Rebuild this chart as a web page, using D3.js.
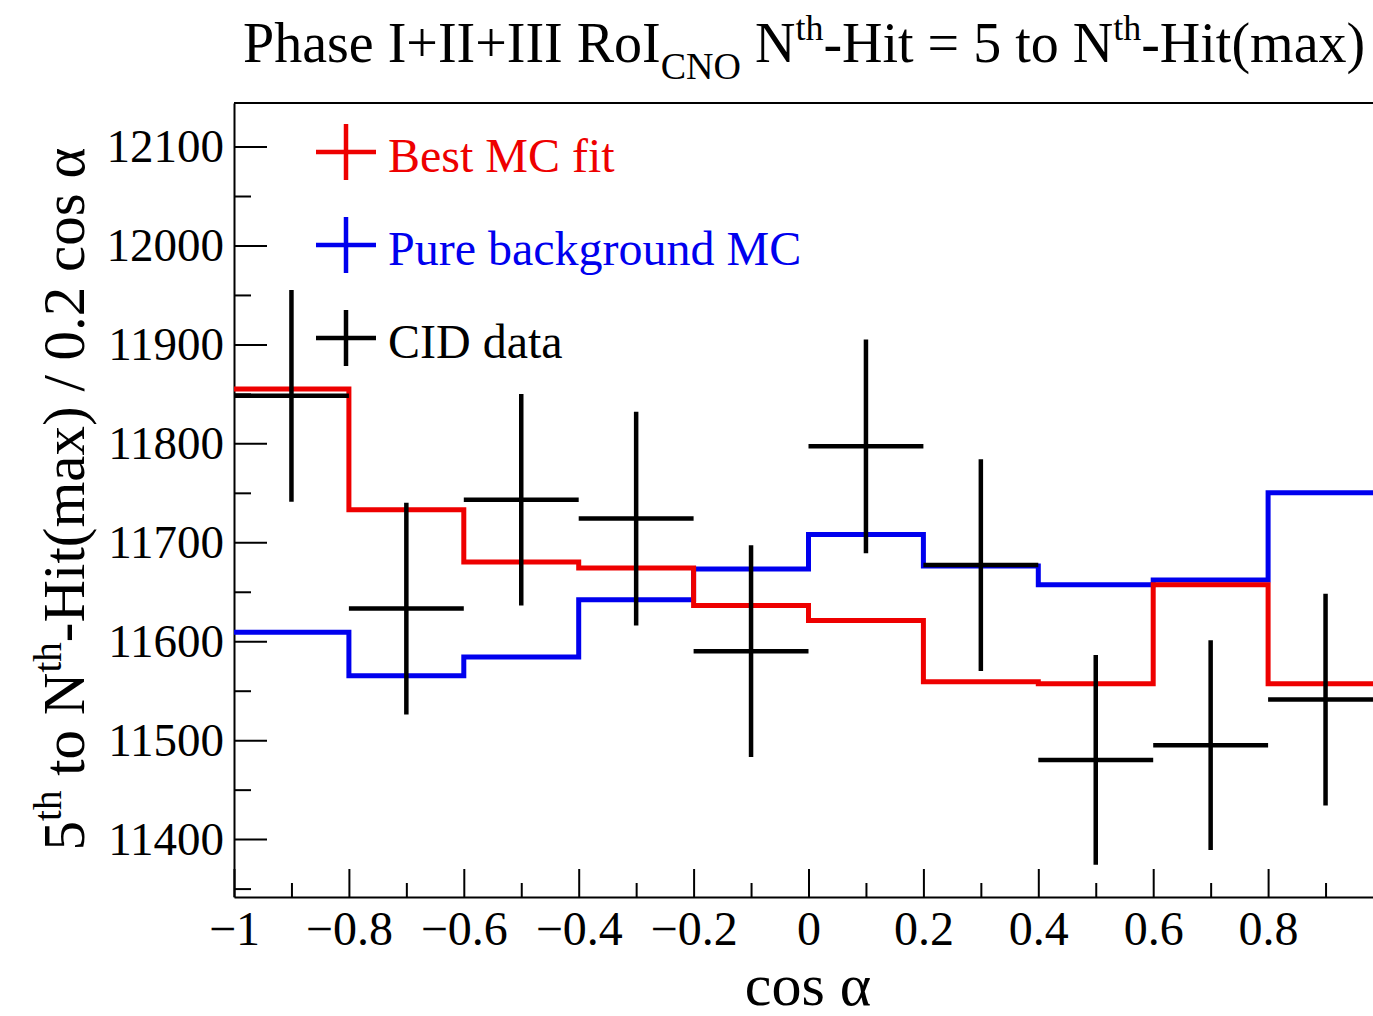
<!DOCTYPE html>
<html>
<head>
<meta charset="utf-8">
<script src="https://cdn.jsdelivr.net/npm/d3@7"></script>
<style>
  body { margin: 0; background: #fff; }
  text { font-family: "Liberation Serif", "Times New Roman", serif; }
</style>
</head>
<body>
<svg id="chart" width="1373" height="1016"></svg>
<script>
// bin edges in cos alpha
var binEdges = [-1, -0.8, -0.6, -0.4, -0.2, 0, 0.2, 0.4, 0.6, 0.8, 1]
var binCenters = [-0.9, -0.7, -0.5, -0.3, -0.1, 0.1, 0.3, 0.5, 0.7, 0.9]

// series values
var bestFit   = [11855, 11733, 11680, 11674, 11636, 11621, 11559, 11557, 11657, 11557]
var pureBkg   = [11609, 11565, 11584, 11642, 11673, 11708, 11676, 11657, 11662, 11750]
var cidData   = [11848, 11633, 11743, 11724, 11590, 11797, 11677, 11480, 11495, 11541]
var cidErrors = [107, 107, 107, 108, 107, 108, 107, 106, 106, 107]

var yMajorTicks = [11400, 11500, 11600, 11700, 11800, 11900, 12000, 12100]
var yMinorTicks = [11350, 11450, 11550, 11650, 11750, 11850, 11950, 12050]
var xMajorTicks = [-1, -0.8, -0.6, -0.4, -0.2, 0, 0.2, 0.4, 0.6, 0.8, 1]
var xTickLabels = ["\u22121", "\u22120.8", "\u22120.6", "\u22120.4", "\u22120.2", "0", "0.2", "0.4", "0.6", "0.8", "1"]
var xMinorTicks = [-0.9, -0.7, -0.5, -0.3, -0.1, 0.1, 0.3, 0.5, 0.7, 0.9]

var legendNames  = ["Best MC fit", "Pure background MC", "CID data"]
var legendColors = ["#ee0000", "#0000ee", "#000000"]

var padLeft = 234, padRight = 1383, padTop = 103, padBottom = 897

var x = d3.scaleLinear().domain([-1, 1]).range([padLeft, padRight])
var y = d3.scaleLinear().domain([11341.5, 12144]).range([padBottom, padTop])

var svg = d3.select("#chart")

svg.append("rect").attr("width", 1373).attr("height", 1016).attr("fill", "#fff")

// frame top
svg.append("line")
   .attr("x1", padLeft).attr("x2", padRight)
   .attr("y1", padTop).attr("y2", padTop)
   .attr("stroke", "#000").attr("stroke-width", 2)

// y axis, ticks pointing inward
var yAxis = svg.append("g")
   .attr("transform", "translate(" + padLeft + ",0)")
   .call(d3.axisLeft(y)
           .tickValues(yMajorTicks)
           .tickFormat(d3.format("d"))
           .tickSizeInner(-33)
           .tickSizeOuter(0)
           .tickPadding(10))
yAxis.select(".domain").attr("stroke-width", 2)
yAxis.selectAll(".tick line").attr("stroke-width", 2)
yAxis.selectAll("text")
     .attr("font-size", 47)
     .attr("fill", "#000")
     .style("font-family", "Liberation Serif")

var yMinor = svg.append("g")
   .attr("transform", "translate(" + padLeft + ",0)")
   .call(d3.axisLeft(y)
           .tickValues(yMinorTicks)
           .tickFormat("")
           .tickSizeInner(-17)
           .tickSizeOuter(0))
yMinor.select(".domain").remove()
yMinor.selectAll(".tick line").attr("stroke-width", 2)

// x axis
var xAxis = svg.append("g")
   .attr("transform", "translate(0," + padBottom + ")")
   .call(d3.axisBottom(x)
           .tickValues(xMajorTicks)
           .tickFormat((d, i) => xTickLabels[i])
           .tickSizeInner(-28)
           .tickSizeOuter(0)
           .tickPadding(14))
xAxis.select(".domain").attr("stroke-width", 2)
xAxis.selectAll(".tick line").attr("stroke-width", 2)
xAxis.selectAll("text")
     .attr("font-size", 48)
     .attr("fill", "#000")
     .style("font-family", "Liberation Serif")

var xMinor = svg.append("g")
   .attr("transform", "translate(0," + padBottom + ")")
   .call(d3.axisBottom(x)
           .tickValues(xMinorTicks)
           .tickFormat("")
           .tickSizeInner(-14)
           .tickSizeOuter(0))
xMinor.select(".domain").remove()
xMinor.selectAll(".tick line").attr("stroke-width", 2)

// histograms as step lines
function stepPoints( values ){
  let pts = values.map((v, i) => [binEdges[i], v])
  pts.push([binEdges[binEdges.length - 1], values[values.length - 1]])
  return pts
}

var stepLine = d3.line()
   .x(d => x(d[0]))
   .y(d => y(d[1]))
   .curve(d3.curveStepAfter)

svg.append("path")
   .attr("d", stepLine(stepPoints(pureBkg)))
   .attr("fill", "none")
   .attr("stroke", legendColors[1])
   .attr("stroke-width", 5)

svg.append("path")
   .attr("d", stepLine(stepPoints(bestFit)))
   .attr("fill", "none")
   .attr("stroke", legendColors[0])
   .attr("stroke-width", 5)

// data crosses
var pts = svg.append("g").selectAll("g")
   .data(binCenters)
   .join("g")

pts.append("line")
   .attr("x1", (d, i) => x(binEdges[i]))
   .attr("x2", (d, i) => x(binEdges[i + 1]))
   .attr("y1", (d, i) => y(cidData[i]))
   .attr("y2", (d, i) => y(cidData[i]))
   .attr("stroke", "#000").attr("stroke-width", 4.5)

pts.append("line")
   .attr("x1", d => x(d))
   .attr("x2", d => x(d))
   .attr("y1", (d, i) => y(cidData[i] + cidErrors[i]))
   .attr("y2", (d, i) => y(cidData[i] - cidErrors[i]))
   .attr("stroke", "#000").attr("stroke-width", 4.5)

// legend
var legend = svg.append("g").selectAll("g")
   .data(legendNames)
   .join("g")
   .attr("transform", (d, i) => "translate(346," + (152 + i * 93) + ")")

legend.append("line")
   .attr("x1", -30).attr("x2", 30)
   .attr("stroke", (d, i) => legendColors[i]).attr("stroke-width", 4.5)
legend.append("line")
   .attr("y1", -28).attr("y2", 28)
   .attr("stroke", (d, i) => legendColors[i]).attr("stroke-width", 4.5)
legend.append("text")
   .attr("x", 42).attr("y", 20)
   .attr("font-size", 48)
   .attr("fill", (d, i) => legendColors[i])
   .text(d => d)

// title
var title = svg.append("text")
   .attr("x", 243).attr("y", 62)
   .attr("font-size", 56)
title.append("tspan").text("Phase I+II+III RoI")
title.append("tspan").attr("font-size", 38).attr("dy", 17).text("CNO")
title.append("tspan").attr("dy", -17).text(" N")
title.append("tspan").attr("font-size", 36).attr("dy", -22).text("th")
title.append("tspan").attr("dy", 22).text("-Hit = 5 to N")
title.append("tspan").attr("font-size", 36).attr("dy", -22).text("th")
title.append("tspan").attr("dy", 22).text("-Hit(max)")

// axis titles
svg.append("text")
   .attr("x", 808).attr("y", 1005)
   .attr("text-anchor", "middle")
   .attr("font-size", 60)
   .text("cos \u03b1")

var ylab = svg.append("text")
   .attr("transform", "translate(84,499) rotate(-90)")
   .attr("text-anchor", "middle")
   .attr("font-size", 59)
ylab.append("tspan").text("5")
ylab.append("tspan").attr("font-size", 39).attr("dy", -23).text("th")
ylab.append("tspan").attr("dy", 23).text(" to N")
ylab.append("tspan").attr("font-size", 39).attr("dy", -23).text("th")
ylab.append("tspan").attr("dy", 23).text("-Hit(max) / 0.2 cos \u03b1")
</script>
</body>
</html>
